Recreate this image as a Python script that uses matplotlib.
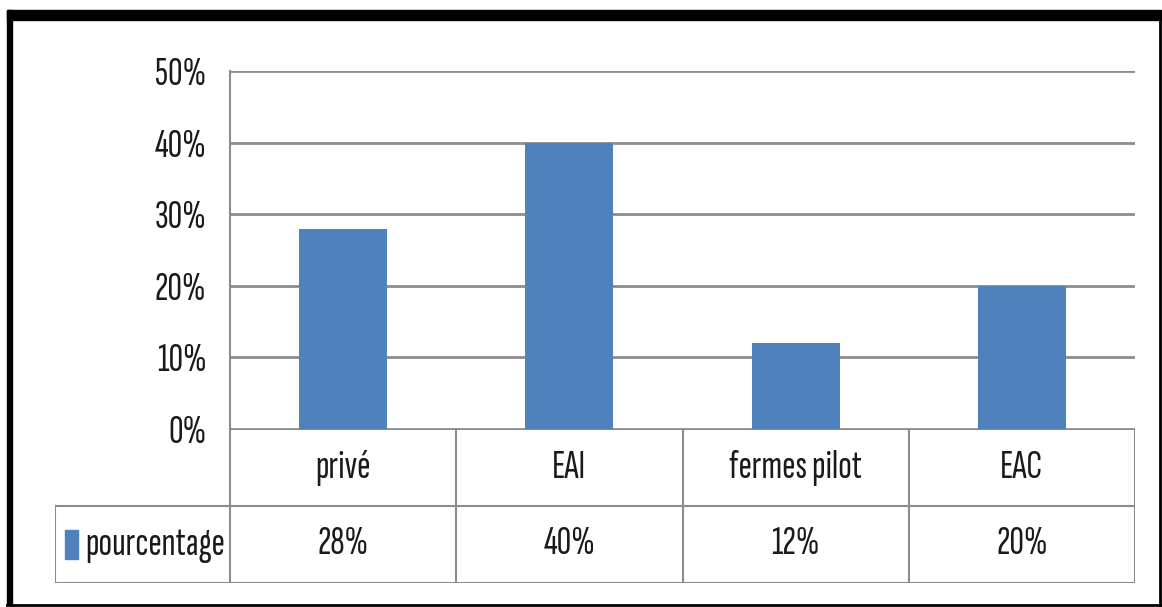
import matplotlib.pyplot as plt
from matplotlib.patches import Rectangle
from matplotlib.lines import Line2D

categories = ['privé', 'EAI', 'fermes pilot', 'EAC']
pourcentage = [0.28, 0.40, 0.12, 0.20]
value_labels = ['28%', '40%', '12%', '20%']
yticks = [0, 0.1, 0.2, 0.3, 0.4, 0.5]
ytick_labels = ['0%', '10%', '20%', '30%', '40%', '50%']
series_name = 'pourcentage'

plt.rcParams['font.family'] = ['Sofia Sans Extra Condensed', 'DejaVu Sans']

W, H = 1162, 607
fig = plt.figure(figsize=(W / 100, H / 100), dpi=100)
bar_color = '#4F81BD'
grid_color = '#8C8C8C'
text_color = '#1a1a1a'
fs = 29


def fx(px):
    return px / W


def fy(py):
    return 1 - py / H


# plot area
ax = fig.add_axes([fx(230), fy(429), fx(1135) - fx(230), fy(71) - fy(429)])
ax.bar(range(len(categories)), pourcentage, width=0.39, color=bar_color, zorder=3)
ax.set_xlim(-0.5, len(categories) - 0.5)
ax.set_ylim(0, 0.5)
ax.set_yticks(yticks)
ax.set_yticklabels(ytick_labels, fontsize=fs, color=text_color)
ax.set_xticks([])
ax.tick_params(axis='y', length=0, pad=17)
ax.grid(axis='y', color=grid_color, linewidth=2, zorder=0)
for s in ['top', 'right', 'bottom']:
    ax.spines[s].set_visible(False)
ax.spines['left'].set_color(grid_color)
ax.spines['left'].set_linewidth(1.5)

# data table
n = len(categories)
left_x = -0.5 - (230 - 55) / 226.25
tab = fig.add_axes([fx(55), fy(583), fx(1135) - fx(55), fy(429) - fy(583)])
tab.set_xlim(left_x, n - 0.5)
tab.set_ylim(0, 2)
tab.axis('off')
lw = 1.5
tab.plot([-0.5, n - 0.5], [2, 2], color=grid_color, lw=lw)
tab.plot([left_x, n - 0.5], [1, 1], color=grid_color, lw=lw)
tab.plot([left_x, n - 0.5], [0, 0], color=grid_color, lw=lw)
tab.plot([left_x, left_x], [0, 1], color=grid_color, lw=lw)
for i in range(n + 1):
    tab.plot([i - 0.5, i - 0.5], [0, 2], color=grid_color, lw=lw)
for i, (c, v) in enumerate(zip(categories, value_labels)):
    tab.text(i, 1.5, c, ha='center', va='center', fontsize=fs, color=text_color)
    tab.text(i, 0.5, v, ha='center', va='center', fontsize=fs, color=text_color)

fig.add_artist(Rectangle((fx(65), fy(559)), fx(13), fy(530) - fy(559), color=bar_color))
fig.text(fx(85), fy(545), series_name, ha='left', va='center', fontsize=fs, color=text_color)

# outer frame
fig.add_artist(Rectangle((fx(7), fy(20)), fx(1154), fy(10) - fy(20), color='black'))
fig.add_artist(Rectangle((fx(7), fy(605)), fx(5), fy(10) - fy(605), color='black'))
fig.add_artist(Line2D([fx(1160), fx(1160)], [fy(605), fy(12)], color='black', lw=2))
fig.add_artist(Line2D([fx(7), fx(1160)], [fy(605), fy(605)], color='black', lw=2))

fig.savefig('out.png', dpi=100)
